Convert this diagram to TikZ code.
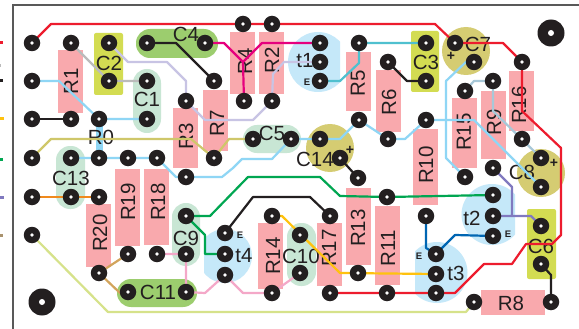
\documentclass[tikz,border=0pt]{standalone}
\usepackage{fontspec}
\setmainfont{Liberation Sans}
\pgfdeclarelayer{bodies}
\pgfdeclarelayer{texts}
\pgfdeclarelayer{traces}
\pgfsetlayers{bodies,texts,traces,main}
\definecolor{rpink}{HTML}{F9A9AD}
\definecolor{clime}{HTML}{D3DC52}
\definecolor{cgreen}{HTML}{9CCD6E}
\definecolor{cmint}{HTML}{C8E6D4}
\definecolor{tblue}{HTML}{C5E8F9}
\definecolor{colive}{HTML}{D5CC72}
\definecolor{padk}{HTML}{231F20}
\definecolor{wred}{HTML}{ED1C2E}
\definecolor{wsky}{HTML}{8FD6F5}
\definecolor{wgray}{HTML}{BBBBBB}
\definecolor{wlav}{HTML}{C8C4E4}
\definecolor{wteal}{HTML}{4FC0CF}
\definecolor{wmag}{HTML}{E6007E}
\definecolor{wkhaki}{HTML}{CFC76A}
\definecolor{wsteel}{HTML}{A8C8D8}
\definecolor{worange}{HTML}{F08A1D}
\definecolor{wgreen}{HTML}{00A651}
\definecolor{wyellow}{HTML}{FFC20E}
\definecolor{wpink}{HTML}{F4A8C8}
\definecolor{wtan}{HTML}{D2A45C}
\definecolor{wlime}{HTML}{D6E28A}
\definecolor{wblue}{HTML}{0066B3}
\definecolor{wpurple}{HTML}{8079BF}
\tikzset{
  pad/.style={circle,fill=padk,draw=none,minimum size=16.5pt,inner sep=0pt,
    path picture={\fill[white] (path picture bounding box.center) circle (1.8pt);}},
  bighole/.style={circle,fill=padk,draw=none,minimum size=27pt,inner sep=0pt,
    path picture={\fill[white] (path picture bounding box.center) circle (3pt);}},
  lbl/.style={inner sep=0pt,text=padk,font=\fontsize{20.5}{21}\selectfont},
  vlbl/.style={lbl,rotate=90},
  elbl/.style={inner sep=0pt,text=padk,font=\fontsize{9.5}{10}\selectfont\bfseries},
  plus/.style={inner sep=0pt,text=padk,font=\fontsize{14}{14}\selectfont\bfseries},
  trace/.style={line width=2.2pt,line join=round,line cap=round},
}
\newcommand{\resbody}[4]{\fill[rpink] (#1,#2) rectangle (#3,#4);}
\newcommand{\capbody}[6]{\fill[#5,rounded corners=#6] (#1,#2) rectangle (#3,#4);}
\begin{document}
\begin{tikzpicture}[x=1pt,y=-1pt]
\useasboundingbox (0,0) rectangle (579,329);
\begin{pgfonlayer}{bodies}
  \fill[white] (0,0) rectangle (579,329);
  \draw[color=black!65,line width=1.4pt] (13,329) -- (13,5) -- (579,5);
  \foreach \yy/\cc/\ww in {43/wred/3,66/wgray/1,81/padk/3,119/wyellow/4,159/wgreen/3,197/wpurple/4,235/wtan!50!gray/3}
    \fill[\cc] (0,\yy-1.5) rectangle (\ww,\yy+1.5);
  % resistors
  \resbody{58}{50}{83}{113}
  \resbody{173}{108}{198}{168}
  \resbody{230}{32}{255}{94}
  \resbody{259}{32}{284}{94}
  \resbody{346}{52}{371}{111}
  \resbody{376}{70}{401}{132}
  \resbody{203}{90}{228}{151}
  \resbody{452}{98}{477}{168}
  \resbody{481}{91}{506}{159}
  \resbody{509}{71}{534}{131}
  \resbody{413}{129}{438}{205}
  \resbody{115}{169}{140}{246}
  \resbody{144}{169}{169}{245}
  \resbody{86}{204}{111}{267}
  \resbody{258}{223}{283}{289}
  \resbody{317}{223}{342}{286}
  \resbody{346}{188}{371}{265}
  \resbody{375}{206}{400}{285}
  \resbody{481}{290}{545}{315}
  % rectangular capacitors
  \capbody{94}{33}{123}{95}{clime}{2pt}
  \capbody{411}{31}{439}{92}{clime}{2pt}
  \capbody{527}{209}{556}{279}{clime}{2pt}
  % pill capacitors
  \capbody{136}{29}{218}{58}{cgreen}{14pt}
  \capbody{117}{279}{197}{307}{cgreen}{14pt}
  \capbody{133}{69}{161}{133}{cmint}{13.9pt}
  \capbody{243}{125}{301}{153}{cmint}{13.9pt}
  \capbody{56}{146}{85}{209}{cmint}{14pt}
  \capbody{172}{203}{200}{266}{cmint}{13.9pt}
  \capbody{287}{223}{316}{286}{cmint}{14pt}
  % round capacitors
  \fill[colive] (330,148) circle (24);
  \fill[colive] (466,51) circle (24);
  \fill[colive] (541,173) circle (24);
  % transistors
  \begin{scope}\clip (270,20) rectangle (340,100); \fill[tblue] (318,62) circle (30); \end{scope}
  \begin{scope}\clip (450,170) rectangle (515,250); \fill[tblue] (492,214.5) circle (30.5); \end{scope}
  \begin{scope}\clip (415,230) rectangle (480,310); \fill[tblue] (437,272.5) circle (30.5); \end{scope}
  \begin{scope}\clip (204,220) rectangle (260,290); \fill[tblue] (225,256) circle (27); \end{scope}
  % R0
  \fill[wsky] (96,119) rectangle (103,158);
\end{pgfonlayer}

% pads
\foreach \n/\x/\y in {p1/32/43,p2/71/43,p3/109/43,p4/147/43,p5/205/43,p6/243/24,p7/272/24,p8/320/43,p9/359/43,p10/426/43,p11/455/43,
 p12/32/81,p13/109/81,p14/147/81,p15/214/81,p16/320/62,p17/320/81,p18/388/62,p19/426/81,p20/474/62,p21/522/62,
 p22/32/119,p23/71/119,p24/99/119,p25/147/119,p26/186/101,p27/244/101,p28/272/101,p29/359/120,p30/426/120,p31/465/91,p32/493/81,
 p33/32/158,p34/71/158,p35/99/158,p36/128/158,p37/157/158,p38/214/158,p39/253/139,p40/291/139,p41/320/139,p42/340/158,p43/388/139,p44/522/139,p45/541/158,
 p46/32/197,p47/71/197,p48/99/197,p49/186/177,p50/186/216,p51/32/235,p52/128/254,p53/157/254,p54/186/254,p55/99/273,p56/128/292,p57/186/292,
 p58/272/216,p59/225/233,p60/225/254,p61/225/275,p62/272/293,p63/300/235,p64/300/273,p65/330/216,p66/330/293,p67/358/273,p68/358/178,p69/387/197,p70/387/293,
 p71/493/195,p72/426/216,p73/493/216,p74/493/236,p75/436/254,p76/436/274,p77/436/293,p78/474/302,p79/551/302,p80/541/226,p81/541/264,p82/465/177,p83/493/168,p84/541/187}
  \node[pad] (\n) at (\x,\y) {};
\node[bighole] (h1) at (551,33) {};
\node[bighole] (h2) at (42,302) {};

\begin{pgfonlayer}{texts}
  \foreach \n/\x/\y/\t in {lR1/71/81/R1,lR3/186/136/R3,lR4/245/61/R4,lR2/272/60/R2,lR7/217/123/R7,lR5/358/83/R5,lR6/389/102/R6,
    lR15/464/132/R15,lR9/494/122/R9,lR16/519/105/R16,lR10/426/165/R10,lR20/100/233/R20,lR19/128/202/R19,lR18/158/202/R18,
    lR14/273/256/R14,lR17/329/248/R17,lR13/358/228/R13,lR11/388/248/R11}
    \node[vlbl] (\n) at (\x,\y) {\t};
  \foreach \n/\x/\y/\t in {lC2/109/63/C2,lC1/147/99/C1,lC4/186/34/C4,lR0/101/137/R0,lt1/305/61/t1,lC5/272/133/C5,lC14/315/159/C14,
    lC3/426/62/C3,lC7/478/44/C7,lC8/522/172/C8,lC13/71/178/C13,lC9/186/238/C9,lC11/158/292/C11,lt4/244/256/t4,lC10/301/256/C10,
    lt2/472/218/t2,lt3/456/273/t3,lC6/541/246/C6,lR8/511/303/R8}
    \node[lbl] (\n) at (\x,\y) {\t};
  \node[elbl] (e1) at (307,82) {E};
  \node[elbl] (e4) at (240,235) {E};
  \node[elbl] (e2) at (508,234) {E};
  \node[elbl] (e3) at (419,256) {E};
  \node[plus] (pl1) at (350,150) {+};
  \node[plus] (pl2) at (451,56) {+};
  \node[plus] (pl3) at (554,163) {+};
\end{pgfonlayer}

\begin{pgfonlayer}{traces}
  % power rail and red net
  \draw[trace,wred] (p1.center) -- (51,24) -- (435,24) -- (p11.center) -- (503,43) -- (p21.center) -- (522,111) -- (561,148) -- (561,235) -- (552,244) -- (526,244) -- (512,264) -- (484,264) -- (455,293) -- (p66.center);
  % grey
  \draw[trace,wgray] (p2.center) -- (p13.center) -- (p14.center);
  % lavender
  \draw[trace,wlav] (p3.center) -- (128,62) -- (167,62) -- (186,81) -- (p26.center) -- (205,120) -- (253,120) -- (p28.center) -- (273,74) -- (284,62) -- (p16.center);
  % black
  \draw[trace,padk] (p4.center) -- (176,43) -- (p15.center);
  \draw[trace,padk] (p22.center) -- (p23.center);
  \draw[trace,padk] (p42.center) -- (p68.center);
  \draw[trace,padk] (p18.center) -- (407,81) -- (p19.center);
  \draw[trace,padk] (p59.center) -- (253,197) -- (310,197) -- (p65.center);
  \draw[trace,padk] (p79.center) -- (551,275) -- (p81.center);
  % sky blue
  \draw[trace,wsky] (p12.center) -- (59,81) -- (p24.center) -- (p25.center);
  \draw[trace,wsky] (p34.center) -- (p37.center) -- (176,177) -- (p49.center) -- (222,177) -- (233,168) -- (242,159) -- (272,159) -- (p40.center) -- (p41.center) -- (340,139) -- (p29.center) -- (p43.center) -- (405,139) -- (p30.center) -- (474,120) -- (p84.center);
  \draw[trace,wsky] (p20.center) -- (466,62) -- (446,81) -- (446,158) -- (p82.center);
  % teal
  \draw[trace,wteal] (p17.center) -- (340,81) -- (359,63) -- (p9.center) -- (p10.center);
  % magenta
  \draw[trace,wmag] (p5.center) -- (224,43) -- (243,62) -- (p27.center);
  \draw[trace,wmag] (243,62) -- (262,43) -- (p8.center);
  % khaki
  \draw[trace,wkhaki] (p33.center) -- (51,139) -- (191,139) -- (p38.center) -- (229,139) -- (p39.center);
  % steel
  \draw[trace,wsteel] (p31.center) -- (474,81) -- (p32.center) -- (493,111) -- (p45.center);
  % orange
  \draw[trace,worange] (p46.center) -- (p48.center);
  % green
  \draw[trace,wgreen] (p50.center) -- (210,216) -- (248,177) -- (320,177) -- (340,196) -- (p69.center) -- (p71.center);
  \draw[trace,wgreen] (p50.center) -- (205,235) -- (205,254) -- (p60.center);
  % yellow
  \draw[trace,wyellow] (p58.center) -- (282,216) -- (340,273) -- (p76.center);
  % pink
  \draw[trace,wpink] (p53.center) -- (p54.center) -- (p57.center) -- (205,293) -- (p61.center) -- (243,293) -- (p62.center) -- (p64.center);
  % tan
  \draw[trace,wtan] (p52.center) -- (p55.center) -- (120,293) -- (p56.center);
  % pale lime
  \draw[trace,wlime] (p51.center) -- (108,312) -- (466,312) -- (p78.center);
  % blue
  \draw[trace,wblue] (p72.center) -- (426,248) -- (p75.center) -- (455,235) -- (p74.center);
  % purple
  \draw[trace,wpurple] (p83.center) -- (512,187) -- (512,216) -- (p73.center);
  \draw[trace,wpurple] (512,216) -- (531,216) -- (p80.center);
\end{pgfonlayer}
\end{tikzpicture}
\end{document}
